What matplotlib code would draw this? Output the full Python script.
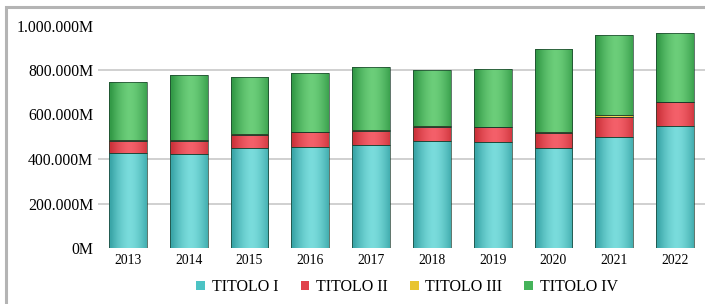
import matplotlib
matplotlib.use("Agg")
import matplotlib.pyplot as plt
import numpy as np
from matplotlib.patches import Rectangle
from matplotlib.colors import to_rgb

years = ["2013", "2014", "2015", "2016", "2017", "2018", "2019", "2020", "2021", "2022"]
titolo_i = [425000, 422000, 448000, 455000, 463000, 481000, 478000, 451000, 497000, 548000]
titolo_ii = [57000, 60000, 60000, 65000, 64000, 64000, 64000, 66000, 93000, 107000]
titolo_iii = [3000, 3000, 5000, 3000, 2000, 2000, 2000, 3000, 7000, 3000]
titolo_iv = [262000, 291000, 257000, 263000, 283000, 251000, 260000, 373000, 360000, 308000]
series_names = ["TITOLO I", "TITOLO II", "TITOLO III", "TITOLO IV"]
y_ticks = [0, 200000, 400000, 600000, 800000, 1000000]
grid_vals = [200000, 400000, 800000]

series = [titolo_i, titolo_ii, titolo_iii, titolo_iv]
edge_cols = ["#3aa6a8", "#cc323a", "#d9b21c", "#339a47"]
mid_cols = ["#7adcdc", "#f4606a", "#f8e060", "#6cce7a"]
leg_cols = ["#4cc3c4", "#e0414a", "#e8c430", "#45b35a"]

plt.rcParams['font.family'] = ['Liberation Serif', 'DejaVu Serif']
fig = plt.figure(figsize=(7.05, 3.04), dpi=100)
ax = fig.add_axes([97.5/705, 1-248/304, 608/705, (248-25.5)/304])

x = np.arange(len(years))
w = 0.62
bottoms = np.zeros(len(years))

def grad_img(c_edge, c_mid, n=64):
    t = np.linspace(-1, 1, n)
    s = 1 - np.abs(t - 0.1) ** 1.6
    s = np.clip(s, 0, 1)
    e = np.array(to_rgb(c_edge)); m = np.array(to_rgb(c_mid))
    img = e[None, :] * (1 - s[:, None]) + m[None, :] * s[:, None]
    return img[None, :, :]

for si, vals in enumerate(series):
    vals = np.array(vals, dtype=float)
    bars = ax.bar(x, vals, w, bottom=bottoms, color=leg_cols[si], edgecolor="none",
                  label=series_names[si], zorder=2)
    img = grad_img(edge_cols[si], mid_cols[si])
    for b in bars:
        x0, y0 = b.get_x(), b.get_y()
        bw, bh = b.get_width(), b.get_height()
        im = ax.imshow(img, extent=[x0, x0 + bw, y0, y0 + bh], aspect='auto',
                       zorder=3, interpolation='bilinear')
        im.set_clip_path(b)
        ax.add_patch(Rectangle((x0, y0), bw, bh, fill=False, edgecolor="#1a3a2a",
                               linewidth=0.7, alpha=0.7, zorder=4))
    bottoms += vals

for g in grid_vals:
    ax.axhline(g, color="#c8c8c8", linewidth=1.2, zorder=1)

ax.set_xlim(-0.5, len(years) - 0.5)
ax.set_ylim(0, 1000000)
ax.set_yticks(y_ticks)
ax.set_yticklabels([f"{v:,}".replace(",", ".") + "M" for v in y_ticks], fontsize=11.3)
ax.set_xticks(x)
ax.set_xticklabels(years, fontsize=9.8)
ax.tick_params(axis='both', length=0)
ax.tick_params(axis='y', pad=3)
ax.tick_params(axis='x', pad=4)
for sp in ax.spines.values():
    sp.set_visible(False)

handles = [Rectangle((0, 0), 1, 1, facecolor=c, edgecolor="none") for c in leg_cols]
fig.legend(handles, series_names, loc='center', bbox_to_anchor=(407/705, 1-287/304),
           ncol=4, frameon=False, fontsize=11.5, handlelength=0.55, handleheight=0.55,
           handletextpad=0.4, columnspacing=1.4)

fig.add_artist(Rectangle((5.5/705, -0.1), 1.2, 1 - 7/304 + 0.1, transform=fig.transFigure,
                         fill=False, edgecolor="#b4b4b4", linewidth=2.2))

fig.savefig("out.png", dpi=100)
